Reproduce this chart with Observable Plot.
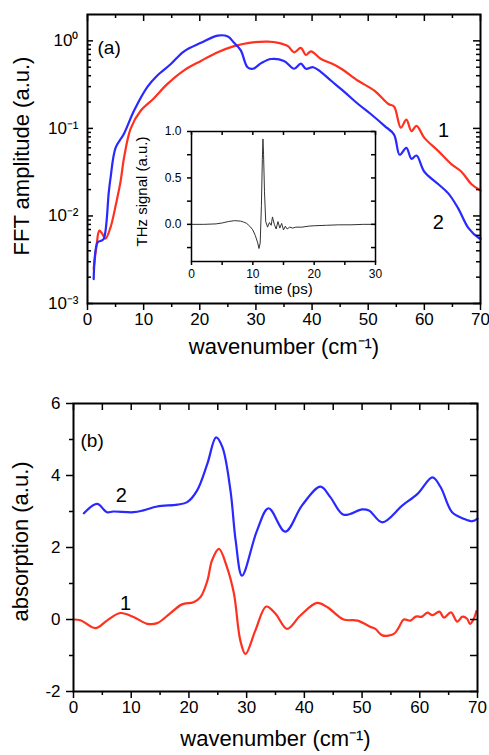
<!DOCTYPE html>
<html><head><meta charset="utf-8">
<script src="https://cdn.jsdelivr.net/npm/d3@7"></script>
<script src="https://cdn.jsdelivr.net/npm/@observablehq/plot@0.6"></script>
<style>
body{margin:0;background:#fff;}
#chart{position:relative;width:489px;height:755px;background:#fff;overflow:hidden;}
#chart svg{position:absolute;}
</style></head><body><div id="chart"></div>
<script>
// ---------- data ----------
// (a) FFT amplitude, curve 1 (red) and curve 2 (blue)
const redK   = [1.1,1.6,2.1,2.6,3.2,4.1,5,5.3,5.9,6.5,7.7,9.5,11.8,14.2,17.2,20.2,23.2,26.1,28.8,32.1,34,35.7,36.8,38,38.9,39.8,41.6,43.5,45.2,48.2,51.1,53.6,54.6,55.8,56.8,57.7,58.6,60,62.5,64.8,66.6,68.4,70];
const redAmp = [0.0025,0.0045,0.0068,0.0063,0.0055,0.0074,0.013,0.016,0.025,0.046,0.1,0.16,0.22,0.32,0.46,0.59,0.74,0.87,0.95,0.98,0.95,0.87,0.74,0.83,0.69,0.76,0.62,0.55,0.48,0.35,0.27,0.19,0.178,0.102,0.126,0.093,0.107,0.078,0.055,0.039,0.032,0.023,0.0195];
const blueK   = [1.1,1.8,2.4,2.9,3.8,4.1,5,6.5,8.3,10.7,12.4,14.8,17.2,20.2,23.2,25,26.1,27.3,28.5,29.5,31,32.7,35,36.8,38,38.9,40.2,41.6,43.4,45.8,48.2,50.5,52.9,54.6,55.6,56.8,57.7,58.6,60,62.5,64.3,66,67.9,69.7,70];
const blueAmp = [0.0019,0.005,0.0052,0.0055,0.019,0.027,0.06,0.087,0.16,0.3,0.4,0.54,0.76,0.95,1.15,1.12,0.95,0.78,0.5,0.48,0.56,0.62,0.59,0.48,0.55,0.48,0.5,0.44,0.35,0.26,0.19,0.145,0.107,0.085,0.05,0.06,0.045,0.049,0.032,0.023,0.018,0.0123,0.0072,0.0056,0.0055];
// inset: THz signal vs time
const thzTime   = [0,2,4,5,6,7,8,8.5,9,9.5,10,10.4,10.8,11.0,11.2,11.4,11.55,11.65,11.75,11.9,12.1,12.4,12.7,13.0,13.2,13.5,13.8,14.1,14.4,14.7,15.0,15.3,15.6,16.0,16.5,17,18,19,20,22,24,26,28,30];
const thzSignal = [0,0,0.005,0.015,0.03,0.04,0.035,0.025,0.01,-0.02,-0.06,-0.12,-0.2,-0.26,-0.2,0.2,0.7,0.92,0.75,0.35,0.03,-0.03,0.02,-0.01,0.08,0.0,-0.05,0.03,-0.04,0.01,-0.06,-0.02,-0.05,-0.03,-0.04,-0.03,-0.03,-0.02,-0.015,-0.01,-0.005,-0.005,0,0];
// (b) absorption, curve 1 (red) and curve 2 (blue)
const absRedK = [0,1.2,3.8,5.8,8.1,10.4,12.8,14.5,16.8,18.8,20.8,22,23.2,24,25.2,26.6,27.8,28.9,29.8,31.5,33.4,35,37,39.3,42.2,44,46.8,49.2,51.5,52.3,53.5,55.5,56.4,57.2,58.4,59.3,60.4,61.3,62.2,63.4,64.2,65.4,66.5,67.4,68.2,68.7,69.3,69.8];
const absRed  = [0,-0.02,-0.24,-0.03,0.18,0.07,-0.12,-0.1,0.18,0.42,0.48,0.62,1.08,1.64,1.96,1.45,0.72,-0.58,-0.96,-0.31,0.36,0.16,-0.26,0.11,0.46,0.34,0,-0.03,-0.21,-0.26,-0.44,-0.4,-0.21,0,-0.03,0.08,0.08,0.19,0.12,0.22,0.05,0.2,-0.06,0.08,0.02,-0.12,0,0.23];
const absBlueK = [1.8,4.1,5.8,6.9,10.4,12.1,14.5,18,19.7,21.4,23.2,24.7,25.8,27.2,28.1,29.2,31.8,33.8,36.7,39.6,42.8,44.5,46.8,50,51.2,53.5,57,59.6,62.2,63.6,65.6,67.6,69.1,70];
const absBlue  = [2.95,3.21,2.98,3.0,2.98,3.03,3.14,3.19,3.26,3.58,4.33,5.06,4.79,3.58,2.19,1.22,2.47,3.09,2.44,3.17,3.69,3.4,2.91,3.06,3.03,2.7,3.17,3.49,3.95,3.68,2.98,2.8,2.73,2.8];
// ticks & labels
const xMajor = [0,10,20,30,40,50,60,70];
const xMinor = [5,15,25,35,45,55,65];
const logMajor = [0.001,0.01,0.1,1];
const logLabels = ["10⁻³","10⁻²","10⁻¹","10⁰"];
const absMajor = [-2,0,2,4,6];
const absMinor = [-1,1,3,5];
const insetXMajor = [0,10,20,30];
const insetXMinor = [5,15,25];
const insetYMajor = [0,0.5,1.0];
const insetYLabels = ["0.0","0.5","1.0"];
const insetYMinor = [-0.25,0.25,0.75];
// curve labels
const curveNames = ["1","2"];
const aLabelK = [63.4,62.5], aLabelAmp = [0.094,0.0085];
const bLabelK = [9.0,8.3], bLabelAbs = [0.44,3.44];

// ---------- helpers ----------
const FONT = '"Liberation Sans", Arial, Helvetica, sans-serif';
const RED = "#ff301e", BLUE = "#2828ff";
const W = 489;
const rows = (xs, ys) => xs.map((x, i) => ({x, y: ys[i]}));
const tk = {stroke: "#000", strokeWidth: 1.5};
const tBottom = (v, len, pH) => Plot.tickX(v, {x: d => d, insetTop: pH, insetBottom: -len, ...tk});
const tTop = (v, len, pH) => Plot.tickX(v, {x: d => d, insetBottom: pH - len, ...tk});
const tLeftIn = (v, len, pW) => Plot.tickY(v, {y: d => d, insetRight: pW - len, ...tk});
const tLeftOut = (v, len, pW) => Plot.tickY(v, {y: d => d, insetLeft: -len, insetRight: pW, ...tk});
const tRightIn = (v, len, pW) => Plot.tickY(v, {y: d => d, insetLeft: pW - len, ...tk});
const chart = document.getElementById("chart");
function place(svg, left, top) { svg.style.left = left + "px"; svg.style.top = top + "px"; svg.style.position = "absolute"; chart.appendChild(svg); }

// ---------- panel (a) ----------
const A = {h: 370, mt: 14, mb: 67, ml: 87, mr: 9};
const aPW = W - A.ml - A.mr, aPH = A.h - A.mt - A.mb;
const logMinor = logMajor.slice(0, 3).flatMap(d => d3.range(2, 10).map(m => m * d));
const svgA = Plot.plot({
  width: W, height: A.h, marginTop: A.mt, marginBottom: A.mb, marginLeft: A.ml, marginRight: A.mr,
  style: {fontFamily: FONT, background: "transparent", overflow: "visible"},
  x: {domain: [0, 70], axis: null},
  y: {type: "log", domain: [0.001, 2], axis: null},
  marks: [
    Plot.line(rows(redK, redAmp), {x: "x", y: "y", stroke: RED, strokeWidth: 2.2, curve: "catmull-rom"}),
    Plot.line(rows(blueK, blueAmp), {x: "x", y: "y", stroke: BLUE, strokeWidth: 2.2, curve: "catmull-rom"}),
    Plot.frame({stroke: "#000", strokeWidth: 2}),
    tBottom(xMajor, 7, aPH), tBottom(xMinor, 4, aPH),
    tTop(xMajor, 7, aPH), tTop(xMinor, 4, aPH),
    tLeftIn(logMajor, 6, aPW), tLeftIn(logMinor, 4, aPW),
    tRightIn(logMajor, 7, aPW), tRightIn(logMinor, 4, aPW),
    Plot.text(xMajor, {x: d => d, text: d => String(d), frameAnchor: "bottom", dy: 21, fontSize: 17}),
    Plot.text(logMajor, {y: d => d, text: (d, i) => logLabels[i], frameAnchor: "left", textAnchor: "end", dx: -9, fontSize: 17}),
    Plot.text(["wavenumber (cm⁻¹)"], {text: d => d, frameAnchor: "bottom", dy: 50, fontSize: 22}),
    Plot.text(["FFT amplitude (a.u.)"], {text: d => d, frameAnchor: "left", textAnchor: "middle", rotate: -90, dx: -66, dy: -3, fontSize: 22}),
    Plot.text(["(a)"], {text: d => d, frameAnchor: "top-left", textAnchor: "start", dx: 10, dy: 26, fontSize: 19}),
    Plot.text(curveNames, {x: (d, i) => aLabelK[i], y: (d, i) => aLabelAmp[i], text: d => d, fontSize: 20})
  ]
});
place(svgA, 0, 0);

// ---------- inset ----------
const I = {w: 240, h: 185, mt: 11, mb: 44, ml: 41, mr: 15};
const iPW = I.w - I.ml - I.mr, iPH = I.h - I.mt - I.mb;
const svgI = Plot.plot({
  width: I.w, height: I.h, marginTop: I.mt, marginBottom: I.mb, marginLeft: I.ml, marginRight: I.mr,
  style: {fontFamily: FONT, background: "transparent", overflow: "visible"},
  x: {domain: [0, 30], axis: null},
  y: {domain: [-0.4, 1.0], axis: null},
  marks: [
    Plot.line(rows(thzTime, thzSignal), {x: "x", y: "y", stroke: "#333", strokeWidth: 1}),
    Plot.frame({stroke: "#000", strokeWidth: 1.5}),
    tBottom(insetXMajor, 4, iPH), tBottom(insetXMinor, 4, iPH),
    tTop(insetXMajor, 4, iPH), tTop(insetXMinor, 4, iPH),
    tLeftOut(insetYMajor, 4, iPW), tLeftOut(insetYMinor, 4, iPW),
    tRightIn(insetYMajor, 4, iPW), tRightIn(insetYMinor, 4, iPW),
    Plot.text(insetXMajor, {x: d => d, text: d => String(d), frameAnchor: "bottom", dy: 16, fontSize: 12}),
    Plot.text(insetYMajor, {y: d => d, text: (d, i) => insetYLabels[i], frameAnchor: "left", textAnchor: "end", dx: -10, fontSize: 12}),
    Plot.text(["time (ps)"], {text: d => d, frameAnchor: "bottom", dy: 32, fontSize: 15}),
    Plot.text(["THz signal (a.u.)"], {text: d => d, frameAnchor: "left", textAnchor: "middle", rotate: -90, dx: -49, dy: -5, fontSize: 15})
  ]
});
place(svgI, 150, 120);

// ---------- panel (b) ----------
const B = {top: 370, h: 385, mt: 33, mb: 64, ml: 73, mr: 12};
const bPW = W - B.ml - B.mr, bPH = B.h - B.mt - B.mb;
const svgB = Plot.plot({
  width: W, height: B.h, marginTop: B.mt, marginBottom: B.mb, marginLeft: B.ml, marginRight: B.mr,
  style: {fontFamily: FONT, background: "transparent", overflow: "visible"},
  x: {domain: [0, 70], axis: null},
  y: {domain: [-2, 6], axis: null},
  marks: [
    Plot.line(rows(absRedK, absRed), {x: "x", y: "y", stroke: RED, strokeWidth: 2.2, curve: "catmull-rom"}),
    Plot.line(rows(absBlueK, absBlue), {x: "x", y: "y", stroke: BLUE, strokeWidth: 2.2, curve: "catmull-rom"}),
    Plot.frame({stroke: "#000", strokeWidth: 2}),
    tBottom(xMajor, 7, bPH), tBottom(xMinor, 4, bPH),
    tTop(xMajor, 7, bPH), tTop(xMinor, 7, bPH),
    tLeftOut(absMajor, 7, bPW), tLeftOut(absMinor, 4, bPW),
    tRightIn(absMajor, 7, bPW), tRightIn(absMinor, 7, bPW),
    Plot.text(xMajor, {x: d => d, text: d => String(d), frameAnchor: "bottom", dy: 21, fontSize: 17}),
    Plot.text(absMajor, {y: d => d, text: d => String(d), frameAnchor: "left", textAnchor: "end", dx: -13, fontSize: 17}),
    Plot.text(["wavenumber (cm⁻¹)"], {text: d => d, frameAnchor: "bottom", dy: 54, fontSize: 22}),
    Plot.text(["absorption (a.u.)"], {text: d => d, frameAnchor: "left", textAnchor: "middle", rotate: -90, dx: -53, dy: -6, fontSize: 22}),
    Plot.text(["(b)"], {text: d => d, frameAnchor: "top-left", textAnchor: "start", dx: 7, dy: 30, fontSize: 19}),
    Plot.text(curveNames, {x: (d, i) => bLabelK[i], y: (d, i) => bLabelAbs[i], text: d => d, fontSize: 20})
  ]
});
place(svgB, 0, B.top);
</script></body></html>
